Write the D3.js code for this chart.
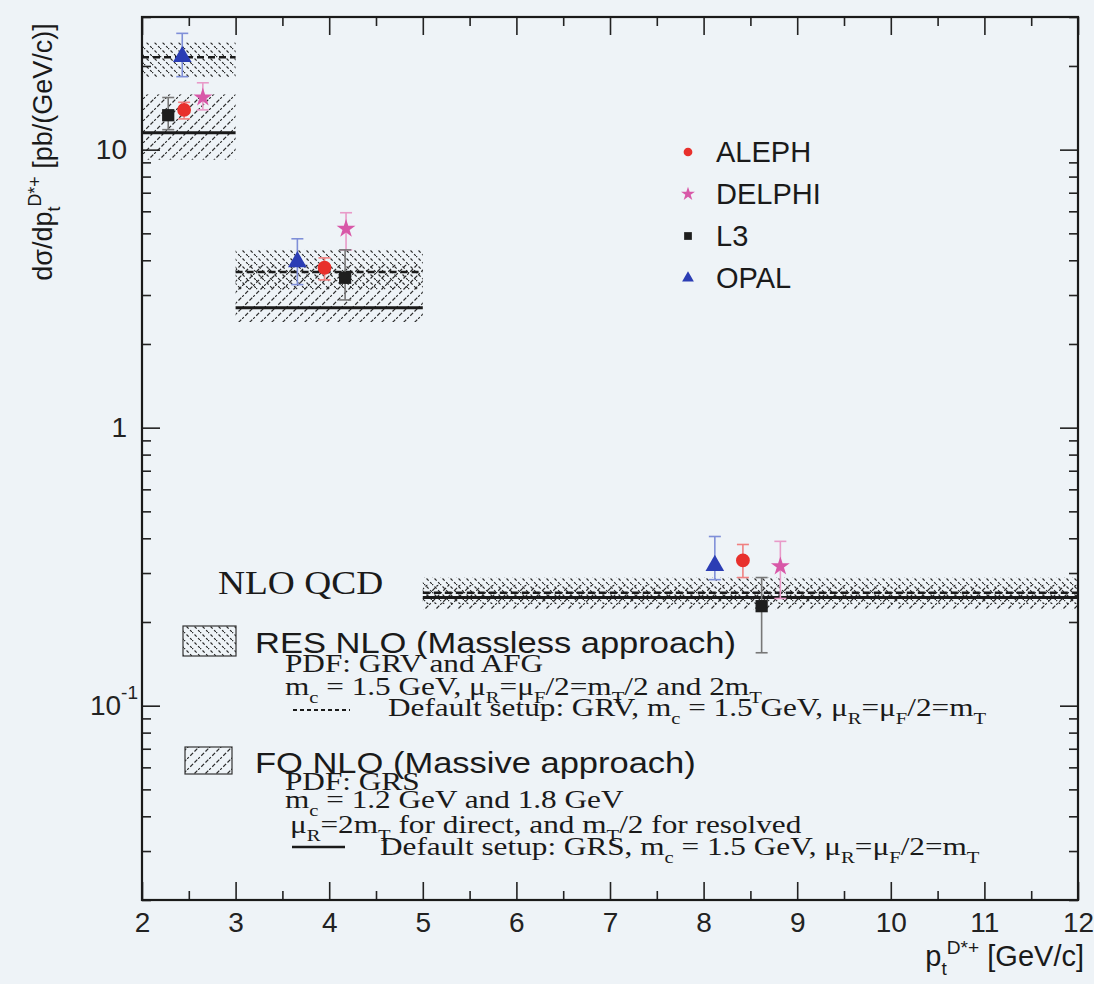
<!DOCTYPE html>
<html>
<head>
<meta charset="utf-8">
<script src="https://cdn.jsdelivr.net/npm/d3@7"></script>
<style>
  body { margin: 0; background: #eef3f7; }
  svg { display: block; }
  text { white-space: pre; }
  .tick text { font-family: "Liberation Sans", Arial, sans-serif; font-size: 28px; fill: #222; }
  .tick line { stroke: #222; stroke-width: 1.6; }
</style>
</head>
<body>
<svg width="1094" height="984"></svg>
<script>
document.addEventListener("DOMContentLoaded", function () {

  // theory bins (p_t ranges)
  var binLo = [2, 3, 5]
  var binHi = [3, 5, 12]
  // RES NLO (massless) band and default
  var resLow = [18.2, 3.13, 0.232]
  var resHigh = [24.3, 4.36, 0.29]
  var resDefault = [21.5, 3.63, 0.255]
  // FO NLO (massive) band and default
  var foLow = [9.2, 2.40, 0.222]
  var foHigh = [15.8, 3.86, 0.272]
  var foDefault = [11.5, 2.70, 0.245]

  // experiments
  var experiments = ["ALEPH", "DELPHI", "L3", "OPAL"]
  var alephX = [2.45, 3.95, 8.42], alephY = [13.9, 3.76, 0.333], alephLo = [12.9, 3.40, 0.289], alephHi = [14.8, 4.08, 0.380]
  var delphiX = [2.65, 4.18, 8.82], delphiY = [15.4, 5.19, 0.317], delphiLo = [13.9, 4.36, 0.243], delphiHi = [17.4, 5.93, 0.390]
  var l3X = [2.28, 4.17, 8.62], l3Y = [13.3, 3.46, 0.228], l3Lo = [11.8, 2.88, 0.155], l3Hi = [15.4, 4.36, 0.289]
  var opalX = [2.43, 3.66, 8.12], opalY = [21.6, 3.95, 0.319], opalLo = [18.3, 3.27, 0.284], opalHi = [26.2, 4.78, 0.406]

  var xTicks = [2, 3, 4, 5, 6, 7, 8, 9, 10, 11, 12]
  var yTicks = [0.1, 1, 10]

  var svg = d3.select("svg")
  var x = d3.scaleLinear().domain([2, 12]).range([142, 1078])
  var y = d3.scaleLog().domain([0.02, 30]).range([900, 17])

  var sans = "'Liberation Sans', Arial, sans-serif"
  var serif = "'Liberation Serif', 'Times New Roman', serif"

  // hatch patterns
  var defs = svg.append("defs")
  var pr = defs.append("pattern").attr("id", "resHatch").attr("patternUnits", "userSpaceOnUse")
    .attr("width", 8).attr("height", 8)
  pr.append("line").attr("x1", -1).attr("y1", -1).attr("x2", 9).attr("y2", 9)
    .attr("stroke", "#2a2a2a").attr("stroke-width", 1.2).attr("stroke-dasharray", "3,2")
  var pf = defs.append("pattern").attr("id", "foHatch").attr("patternUnits", "userSpaceOnUse")
    .attr("width", 11).attr("height", 11)
  pf.append("line").attr("x1", -1).attr("y1", 12).attr("x2", 12).attr("y2", -1)
    .attr("stroke", "#2a2a2a").attr("stroke-width", 1.2).attr("stroke-dasharray", "4,2")

  var bins = binLo.map(function (d, i) {
    return { lo: d, hi: binHi[i], rl: resLow[i], rh: resHigh[i], rd: resDefault[i], fl: foLow[i], fh: foHigh[i], fd: foDefault[i] }
  })

  var bandG = svg.append("g")
  bandG.selectAll("rect.res").data(bins).enter().append("rect").attr("class", "res")
    .attr("x", function (d) { return x(d.lo) }).attr("width", function (d) { return x(d.hi) - x(d.lo) })
    .attr("y", function (d) { return y(d.rh) }).attr("height", function (d) { return y(d.rl) - y(d.rh) })
    .attr("fill", "url(#resHatch)")
  bandG.selectAll("rect.fo").data(bins).enter().append("rect").attr("class", "fo")
    .attr("x", function (d) { return x(d.lo) }).attr("width", function (d) { return x(d.hi) - x(d.lo) })
    .attr("y", function (d) { return y(d.fh) }).attr("height", function (d) { return y(d.fl) - y(d.fh) })
    .attr("fill", "url(#foHatch)")
  bandG.selectAll("line.fo").data(bins).enter().append("line").attr("class", "fo")
    .attr("x1", function (d) { return x(d.lo) }).attr("x2", function (d) { return x(d.hi) })
    .attr("y1", function (d) { return y(d.fd) }).attr("y2", function (d) { return y(d.fd) })
    .attr("stroke", "#1a1a1a").attr("stroke-width", 3)
  bandG.selectAll("line.res").data(bins).enter().append("line").attr("class", "res")
    .attr("x1", function (d) { return x(d.lo) }).attr("x2", function (d) { return x(d.hi) })
    .attr("y1", function (d) { return y(d.rd) }).attr("y2", function (d) { return y(d.rd) })
    .attr("stroke", "#1a1a1a").attr("stroke-width", 2.5).attr("stroke-dasharray", "7,4")

  // axes
  var minorX = d3.range(2.5, 12, 1)
  var minorY = y.ticks().filter(function (d) { return yTicks.indexOf(d) < 0 })

  svg.append("g").attr("transform", "translate(0,900)")
    .call(d3.axisBottom(x).tickValues(xTicks).tickSize(-18).tickPadding(12).tickFormat(d3.format("d")))
  svg.append("g").attr("transform", "translate(0,900)")
    .call(d3.axisBottom(x).tickValues(minorX).tickSize(-9).tickFormat(""))
  svg.append("g").attr("transform", "translate(0,17)")
    .call(d3.axisTop(x).tickValues(xTicks).tickSize(-18).tickFormat(""))
  svg.append("g").attr("transform", "translate(0,17)")
    .call(d3.axisTop(x).tickValues(minorX).tickSize(-9).tickFormat(""))

  var gy = svg.append("g").attr("transform", "translate(142,0)")
    .call(d3.axisLeft(y).tickValues(yTicks).tickSize(-18).tickPadding(15)
      .tickFormat(function (d) { return d === 0.1 ? "" : d3.format("d")(d) }))
  svg.append("g").attr("transform", "translate(142,0)")
    .call(d3.axisLeft(y).tickValues(minorY).tickSize(-9).tickFormat(""))
  svg.append("g").attr("transform", "translate(1078,0)")
    .call(d3.axisRight(y).tickValues(yTicks).tickSize(-18).tickFormat(""))
  svg.append("g").attr("transform", "translate(1078,0)")
    .call(d3.axisRight(y).tickValues(minorY).tickSize(-9).tickFormat(""))
  svg.selectAll(".domain").remove()

  gy.selectAll(".tick").filter(function (d) { return d === 0.1 }).select("text")
    .attr("x", -4)
    .call(function (t) {
      t.append("tspan").text("10")
      t.append("tspan").attr("dy", -16).attr("font-size", "19px").text("-1")
    })

  svg.append("rect").attr("x", 142).attr("y", 17).attr("width", 1078 - 142).attr("height", 900 - 17)
    .attr("fill", "none").attr("stroke", "#1a1a1a").attr("stroke-width", 2.2)

  // rich text helper: _{sub} and ^{sup}
  function rich(sel, str) {
    var fs = parseFloat(sel.attr("font-size"))
    var cur = 0
    str.split(/(_\{[^}]*\}|\^\{[^}]*\})/).filter(function (s) { return s.length }).forEach(function (p) {
      var shift = 0, txt = p, small = false
      if (p[0] === "_") { shift = fs * 0.3; txt = p.slice(2, -1); small = true }
      else if (p[0] === "^") { shift = -fs * 0.42; txt = p.slice(2, -1); small = true }
      sel.append("tspan").attr("dy", shift - cur).attr("font-size", small ? fs * 0.66 : fs).text(txt)
      cur = shift
    })
  }

  // data points
  var colors = { ALEPH: "#e8302c", DELPHI: "#d858a8", L3: "#1e1e1e", OPAL: "#2b3db4" }
  var errColors = { ALEPH: "#f08080", DELPHI: "#e89ac8", L3: "#777", OPAL: "#7f8fd8" }
  var shapes = { ALEPH: d3.symbolCircle, DELPHI: d3.symbolStar, L3: d3.symbolSquare, OPAL: d3.symbolTriangle }
  var series = [
    { name: "ALEPH", xs: alephX, ys: alephY, lo: alephLo, hi: alephHi },
    { name: "DELPHI", xs: delphiX, ys: delphiY, lo: delphiLo, hi: delphiHi },
    { name: "L3", xs: l3X, ys: l3Y, lo: l3Lo, hi: l3Hi },
    { name: "OPAL", xs: opalX, ys: opalY, lo: opalLo, hi: opalHi }
  ]

  series.forEach(function (s) {
    var pts = s.xs.map(function (v, i) { return { x: v, y: s.ys[i], lo: s.lo[i], hi: s.hi[i] } })
    var g = svg.append("g")
    g.selectAll("line.err").data(pts).enter().append("line").attr("class", "err")
      .attr("x1", function (d) { return x(d.x) }).attr("x2", function (d) { return x(d.x) })
      .attr("y1", function (d) { return y(d.lo) }).attr("y2", function (d) { return y(d.hi) })
      .attr("stroke", errColors[s.name]).attr("stroke-width", 1.6)
    ;["lo", "hi"].forEach(function (k) {
      g.selectAll("line.cap" + k).data(pts).enter().append("line")
        .attr("x1", function (d) { return x(d.x) - 6 }).attr("x2", function (d) { return x(d.x) + 6 })
        .attr("y1", function (d) { return y(d[k]) }).attr("y2", function (d) { return y(d[k]) })
        .attr("stroke", errColors[s.name]).attr("stroke-width", 1.6)
    })
    g.selectAll("path").data(pts).enter().append("path")
      .attr("transform", function (d) { return "translate(" + x(d.x) + "," + y(d.y) + ")" })
      .attr("d", d3.symbol().type(shapes[s.name]).size(s.name === "DELPHI" ? 110 : 150))
      .attr("fill", colors[s.name])
  })

  // experiments legend
  var lg = svg.append("g").selectAll("g").data(experiments).enter().append("g")
    .attr("transform", function (d, i) { return "translate(688," + (152 + i * 42) + ")" })
  lg.append("path").attr("d", function (d) { return d3.symbol().type(shapes[d]).size(60)() })
    .attr("fill", function (d) { return colors[d] })
  lg.append("text").attr("x", 28).attr("y", 10).attr("font-family", sans).attr("font-size", 29)
    .attr("fill", "#1a1a1a").text(function (d) { return d })

  // axis titles
  var yl = svg.append("text").attr("transform", "translate(52,152) rotate(-90)")
    .attr("text-anchor", "middle").attr("font-family", sans).attr("font-size", 27).attr("fill", "#1a1a1a")
  rich(yl, "dσ/dp_{t}^{D*+} [pb/(GeV/c)]")
  var xl = svg.append("text").attr("x", 1084).attr("y", 966)
    .attr("text-anchor", "end").attr("font-family", sans).attr("font-size", 29).attr("fill", "#1a1a1a")
  rich(xl, "p_{t}^{D*+} [GeV/c]")

  // NLO QCD legend
  svg.append("rect").attr("x", 183).attr("y", 626).attr("width", 53).attr("height", 30)
    .attr("fill", "url(#resHatch)").attr("stroke", "#333").attr("stroke-width", 1.2)
  svg.append("rect").attr("x", 185).attr("y", 747).attr("width", 47).attr("height", 27)
    .attr("fill", "url(#foHatch)").attr("stroke", "#333").attr("stroke-width", 1.2)
  svg.append("line").attr("x1", 293).attr("x2", 350).attr("y1", 710).attr("y2", 710)
    .attr("stroke", "#1a1a1a").attr("stroke-width", 2).attr("stroke-dasharray", "4,3")
  svg.append("line").attr("x1", 292).attr("x2", 345).attr("y1", 847).attr("y2", 847)
    .attr("stroke", "#1a1a1a").attr("stroke-width", 2.5)

  var nloLines = [
    { x: 218, y: 594, f: serif, s: 34, sx: 1.1, t: "NLO QCD" },
    { x: 255, y: 653, f: sans, s: 30, sx: 1.15, t: "RES NLO (Massless approach)" },
    { x: 285, y: 672, f: serif, s: 25, sx: 1.25, t: "PDF: GRV and AFG" },
    { x: 285, y: 695, f: serif, s: 25, sx: 1.25, t: "m_{c} = 1.5 GeV, μ_{R}=μ_{F}/2=m_{T}/2 and 2m_{T}" },
    { x: 388, y: 716, f: serif, s: 25, sx: 1.25, t: "Default setup: GRV, m_{c} = 1.5 GeV, μ_{R}=μ_{F}/2=m_{T}" },
    { x: 255, y: 773, f: sans, s: 30, sx: 1.15, t: "FO NLO (Massive approach)" },
    { x: 285, y: 790, f: serif, s: 25, sx: 1.25, t: "PDF: GRS" },
    { x: 285, y: 808, f: serif, s: 25, sx: 1.25, t: "m_{c} = 1.2 GeV and 1.8 GeV" },
    { x: 290, y: 833, f: serif, s: 25, sx: 1.25, t: "μ_{R}=2m_{T} for direct, and m_{T}/2 for resolved" },
    { x: 380, y: 855, f: serif, s: 25, sx: 1.25, t: "Default setup: GRS, m_{c} = 1.5 GeV, μ_{R}=μ_{F}/2=m_{T}" }
  ]
  nloLines.forEach(function (l) {
    var t = svg.append("text").attr("transform", "translate(" + l.x + "," + l.y + ") scale(" + l.sx + ",1)")
      .attr("font-family", l.f).attr("font-size", l.s).attr("fill", "#1a1a1a")
    rich(t, l.t)
  })

});
</script>
</body>
</html>
